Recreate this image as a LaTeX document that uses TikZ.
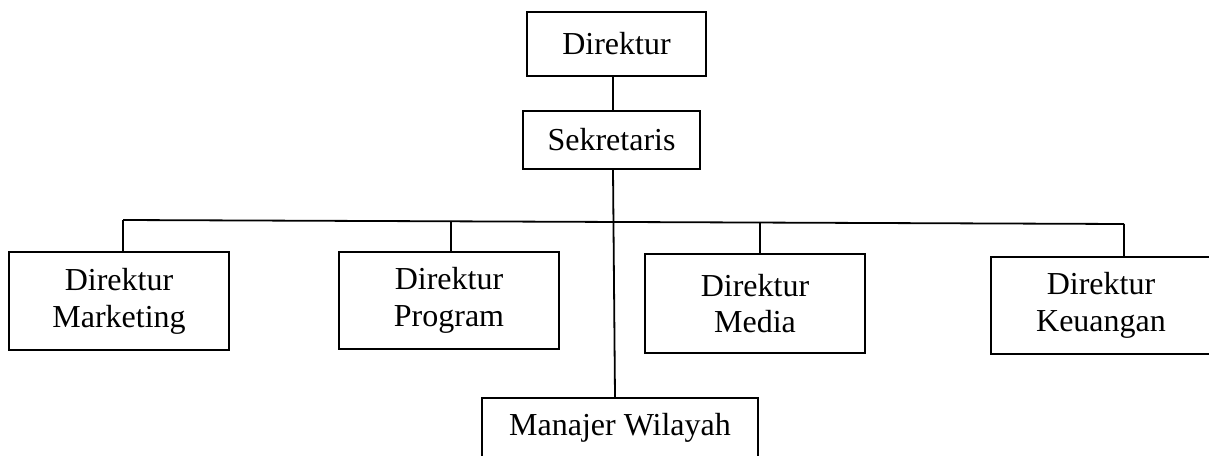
\documentclass[tikz,border=0pt]{standalone}
\usepackage{fontspec}
\setmainfont{Liberation Serif}
\begin{document}
\begin{tikzpicture}[x=1pt,y=-1pt,
  box/.style={draw=black, line width=1.8pt, fill=white, inner sep=0pt, align=center,
    font=\fontsize{32}{36.7}\selectfont},
  link/.style={draw=black, line width=1.8pt}]
\clip (0,0) rectangle (1209,455);
\fill[white] (0,0) rectangle (1209,455);
\node[box, minimum width=179pt, minimum height=64pt] (dir) at (616.5,44) {Direktur};
\node[box, minimum width=177pt, minimum height=58pt] (sek) at (611.5,140) {Sekretaris};
\node[box, minimum width=220pt, minimum height=98pt] (mkt) at (119,301) {Direktur\\Marketing};
\node[box, minimum width=220pt, minimum height=97pt] (prg) at (449,300.5) {Direktur\\Program};
\node[box, minimum width=220pt, minimum height=99pt] (med) at (755,303.5) {Direktur\\Media};
\node[box, minimum width=220pt, minimum height=97pt] (keu) at (1101,305.5) {Direktur\\Keuangan};
\node[box, minimum width=276pt, minimum height=60pt] (man) at (620,428) {Manajer Wilayah};
\coordinate (v1) at (613,0);
\coordinate (v2) at (615,0);
\coordinate (b1) at (123,220);
\coordinate (b2) at (451,221.3);
\coordinate (b3) at (760,222.5);
\coordinate (b4) at (1124,224);
\draw[link] (dir.south -| v1) -- (sek.north -| v1);
\draw[link] (sek.south -| v1) -- (man.north -| v2);
\draw[link] (b1) -- (b4);
\draw[link] (b1) -- (b1 |- mkt.north);
\draw[link] (b2) -- (b2 |- prg.north);
\draw[link] (b3) -- (b3 |- med.north);
\draw[link] (b4) -- (b4 |- keu.north);
\end{tikzpicture}
\end{document}
